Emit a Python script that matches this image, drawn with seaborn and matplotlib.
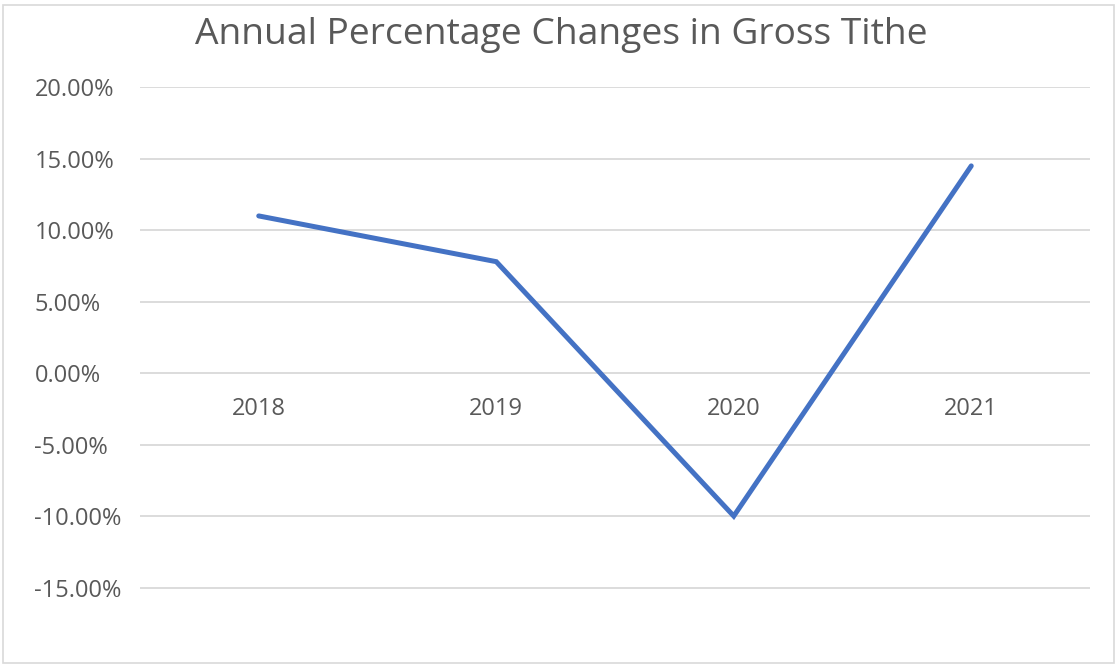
import matplotlib
matplotlib.use("Agg")
import matplotlib.pyplot as plt
import seaborn as sns
import pandas as pd
from matplotlib.ticker import PercentFormatter
from matplotlib.patches import Rectangle

# Annual percentage change in gross tithe
years = ["2018", "2019", "2020", "2021"]
pct_change = [0.110, 0.078, -0.100, 0.145]

y_ticks = [-0.15, -0.10, -0.05, 0.0, 0.05, 0.10, 0.15, 0.20]

sns.set_theme(style="white")
plt.rcParams["font.family"] = ["Open Sans", "DejaVu Sans"]
plt.rcParams["axes.unicode_minus"] = False

W, H = 1118, 664
fig = plt.figure(figsize=(W / 100, H / 100), dpi=100)
fig.patch.set_facecolor("white")

# thin chart-area frame
fig.patches.append(Rectangle((3 / W, 1 / H), (W - 7) / W, (H - 6) / H,
                             transform=fig.transFigure, fill=False,
                             edgecolor="#D9D9D9", linewidth=1.2))

ax = fig.add_axes([140 / W, (H - 659) / H, 950 / W, (659 - 87.3) / H])

df = pd.DataFrame({"year": years, "change": pct_change})
sns.lineplot(data=df, x="year", y="change", ax=ax, color="#4472C4",
             linewidth=3.6, sort=False, solid_joinstyle="miter")

ax.set_xlim(-0.5, len(years) - 0.5)
ax.set_ylim(-0.20, 0.20)
ax.set_yticks(y_ticks)
ax.yaxis.set_major_formatter(PercentFormatter(1.0, decimals=2))
ax.set_xlabel("")
ax.set_ylabel("")

ax.grid(axis="y", color="#D9D9D9", linewidth=1.3)
ax.grid(axis="x", visible=False)
ax.set_axisbelow(True)

for side in ["top", "right", "left", "bottom"]:
    ax.spines[side].set_visible(False)
# category labels sit just under the zero line
ax.spines["bottom"].set_position(("data", 0))

ax.tick_params(axis="both", length=0, labelsize=17, labelcolor="#595959")
ax.tick_params(axis="x", pad=17)
ax.tick_params(axis="y", pad=76)
for lab in ax.get_yticklabels():
    lab.set_horizontalalignment("left")

fig.text(561 / W, 1 - 35 / H, "Annual Percentage Changes in Gross Tithe",
         ha="center", va="center", fontsize=26.8, color="#595959")

fig.savefig("out.png", dpi=100, facecolor="white")
